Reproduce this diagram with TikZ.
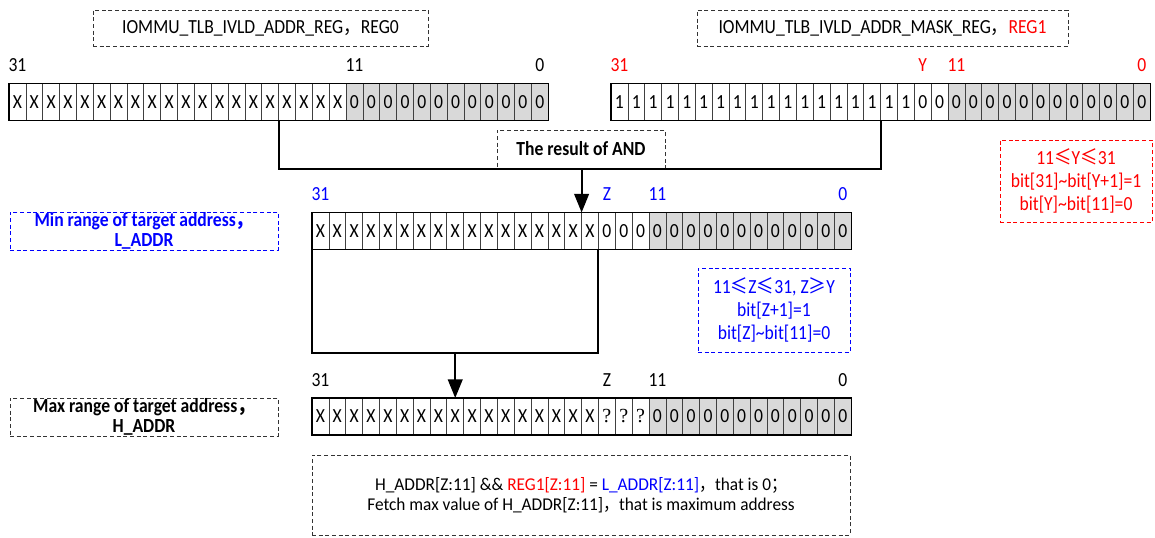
\documentclass[tikz,border=0pt]{standalone}
\usepackage{fontspec}
\setmainfont{Carlito}[FakeStretch=0.88]
\newfontfamily\cjk{Noto Sans CJK SC}[FakeStretch=0.88]
\newfontfamily\bnfont{Carlito}[FakeStretch=0.96]
\newfontfamily\qfont{Liberation Serif}
\usetikzlibrary{arrows.meta,calc}
\definecolor{cellgray}{HTML}{D9D9D9}
\definecolor{rred}{HTML}{FF0000}
\definecolor{rblue}{HTML}{0000FF}
\newcommand{\fc}{{\cjk ，}}
\newcommand{\regrow}[6]{%
  \foreach \v [count=\i from 0] in {#6} {
    \ifnum\i<#5 \def\cellfill{white}\else\def\cellfill{cellgray}\fi
    \node[cell, minimum height=#4, fill=\cellfill] (#1c\i) at (#2+\i*16.85, #3) {\v};
  }
  \draw[line width=0.8pt] (#1c0.north west) rectangle (#1c31.south east);
}
\begin{document}
\begin{tikzpicture}[x=0.75pt,y=-0.75pt,
  font=\fontsize{15}{18}\selectfont,
  cell/.style={draw=black!75, line width=0.5pt, minimum width=12.64pt,
    inner sep=0pt, outer sep=0pt, anchor=north west},
  dbox/.style={draw=black!80, dash pattern=on 3pt off 2pt, line width=0.6pt,
    inner sep=0pt, align=center},
  lbl/.style={anchor=base, inner sep=0pt},
  conn/.style={line width=1.5pt, black},
  arr/.style={conn, -{Triangle[length=14pt,width=11pt]}}]
\useasboundingbox (0,0) rectangle (1155,537);

% top titles
\node[dbox, minimum width=251.25pt, minimum height=27pt] (t0) at (260.5,28)
  {IOMMU\_TLB\_IVLD\_ADDR\_REG\fc REG0};
\node[dbox, minimum width=278.25pt, minimum height=27pt] (t1) at (882.5,28)
  {IOMMU\_TLB\_IVLD\_ADDR\_MASK\_REG\fc\textcolor{rred}{REG1}};

% registers
\regrow{r0}{9}{83.5}{27.75pt}{20}{X,X,X,X,X,X,X,X,X,X,X,X,X,X,X,X,X,X,X,X,0,0,0,0,0,0,0,0,0,0,0,0}
\regrow{r1}{611}{83.5}{27.75pt}{20}{1,1,1,1,1,1,1,1,1,1,1,1,1,1,1,1,1,1,0,0,0,0,0,0,0,0,0,0,0,0,0,0}
\regrow{la}{312}{212.5}{27.75pt}{20}{X,X,X,X,X,X,X,X,X,X,X,X,X,X,X,X,X,0,0,0,0,0,0,0,0,0,0,0,0,0,0,0}
\regrow{ha}{312}{398}{27.75pt}{20}{X,X,X,X,X,X,X,X,X,X,X,X,X,X,X,X,X,{\qfont ?},{\qfont ?},{\qfont ?},0,0,0,0,0,0,0,0,0,0,0,0}

% bit labels
\node[lbl] (r0l31) at ($(r0c0.north)+(0,-12)$) {31};
\node[lbl] (r0l11) at ($(r0c20.north)+(0,-12)$) {11};
\node[lbl] (r0l0) at ($(r0c31.north)+(0,-12)$) {0};
\node[lbl, text=rred] (r1l31) at ($(r1c0.north)+(0,-12)$) {31};
\node[lbl, text=rred] (r1lY) at ($(r1c18.north)+(0,-12)$) {Y};
\node[lbl, text=rred] (r1l11) at ($(r1c20.north)+(0,-12)$) {11};
\node[lbl, text=rred] (r1l0) at ($(r1c31.north)+(0,-12)$) {0};
\node[lbl, text=rblue] (lal31) at ($(lac0.north)+(0,-12)$) {31};
\node[lbl, text=rblue] (lalZ) at ($(lac17.north)+(0,-12)$) {Z};
\node[lbl, text=rblue] (lal11) at ($(lac20.north)+(0,-12)$) {11};
\node[lbl, text=rblue] (lal0) at ($(lac31.north)+(0,-12)$) {0};
\node[lbl] (hal31) at ($(hac0.north)+(0,-12)$) {31};
\node[lbl] (halZ) at ($(hac17.north)+(0,-12)$) {Z};
\node[lbl] (hal11) at ($(hac20.north)+(0,-12)$) {11};
\node[lbl] (hal0) at ($(hac31.north)+(0,-12)$) {0};

% AND result
\node[dbox, minimum width=126pt, minimum height=28.5pt, font=\fontsize{15}{18}\selectfont\bfseries] (andbox) at (581,149) {The result of AND};
\coordinate (j) at ($(lac16.north west)+(0,-44)$);
\draw[conn] (r0c16.south west) |- (j);
\draw[conn] (r1c16.south west) |- (j);
\draw[arr] (j) -- (lac16.north west);

% side notes
\node[dbox, draw=rred, text=rred, minimum width=114pt, minimum height=61.5pt,
  font=\fontsize{15}{17.4}\selectfont] (ynote) at (1076,181)
  {11{\cjk ≤}Y{\cjk ≤}31\\bit[31]\textasciitilde bit[Y+1]=1\\bit[Y]\textasciitilde bit[11]=0};
\node[dbox, draw=rblue, text=rblue, minimum width=201pt, minimum height=28.5pt,
  font=\fontsize{15}{15.5}\selectfont\bfseries] (minbox) at (144,231)
  {Min range of target address\fc\\L\_ADDR};
\node[dbox, draw=rblue, text=rblue, minimum width=114pt, minimum height=63pt,
  font=\fontsize{15}{17.2}\selectfont] (znote) at (774,310)
  {11{\cjk ≤}Z{\cjk ≤}31, Z{\cjk ≥}Y\\bit[Z+1]=1\\bit[Z]\textasciitilde bit[11]=0};
\node[dbox, minimum width=201pt, minimum height=28.5pt,
  font=\fontsize{15}{15.5}\selectfont\bfseries] (maxbox) at (144,417)
  {Max range of target address\fc\\H\_ADDR};

% L_ADDR to H_ADDR
\coordinate (k) at ($(lac8.south)+(0,103)$);
\draw[conn] (lac0.south west) -- ++(0,103) -| (lac17.south west);
\draw[arr] (k) -- (hac8.north);

% bottom note
\node[dbox, minimum width=403.5pt, minimum height=60pt,
  font=\bnfont\fontsize{13.5}{15}\selectfont] (bnote) at (581,495)
  {H\_ADDR[Z:11] \&\& \textcolor{rred}{REG1[Z:11]} = \textcolor{rblue}{L\_ADDR[Z:11]}\fc that is 0{\cjk ；}\\
   Fetch max value of H\_ADDR[Z:11]\fc that is maximum address};
\end{tikzpicture}
\end{document}
